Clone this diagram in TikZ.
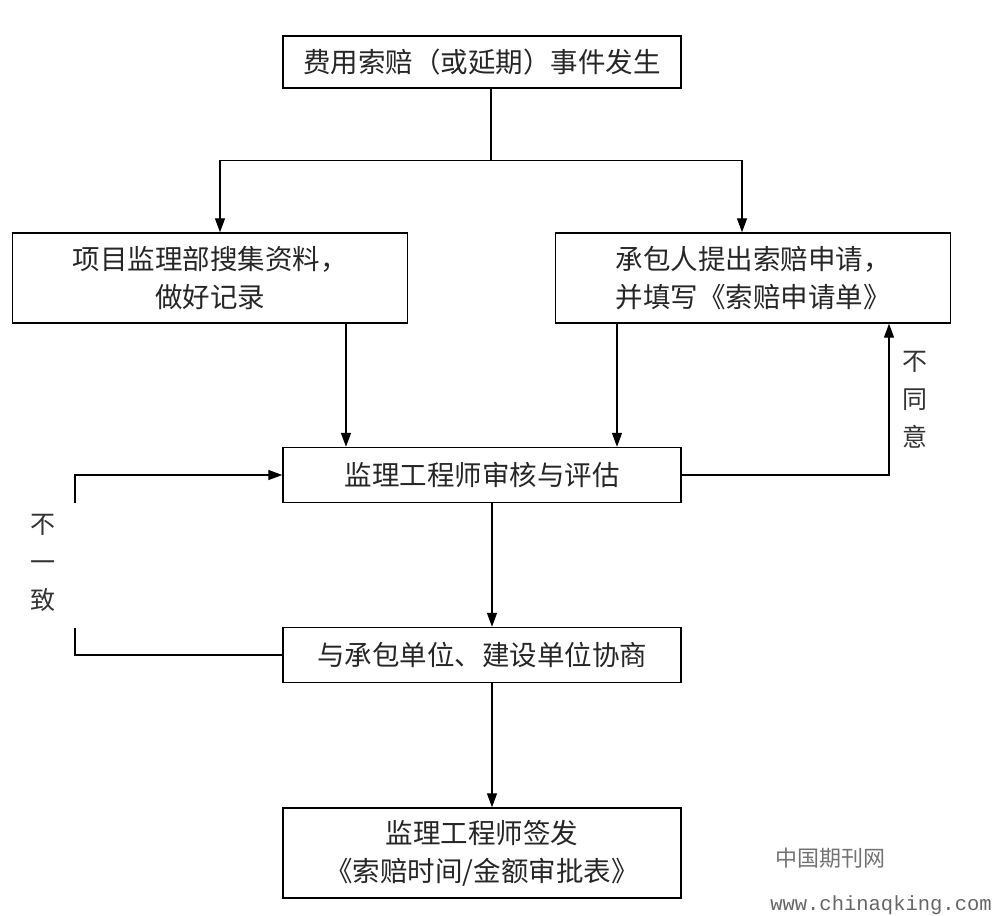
\documentclass[tikz,border=0pt]{standalone}
\usepackage{fontspec}
\setmainfont{Noto Sans CJK SC}
\newfontfamily\wmfont{Liberation Mono}
\usetikzlibrary{positioning,calc,arrows.meta}

\tikzset{
  box/.style={draw, line width=1.4pt, minimum width=398pt, inner sep=0pt, align=center,
    font=\fontsize{27.5}{38}\selectfont, text=black!85},
  arr/.style={-{Triangle[length=14pt,width=10pt]}, line width=1.3pt},
  lbl/.style={align=center, font=\fontsize{25}{38}\selectfont, text=black!80},
}

\begin{document}
\begin{tikzpicture}[x=1pt,y=-1pt]
    \useasboundingbox (0,0) rectangle (994,916);

    % Boxes
    \node[box, minimum height=52pt] (evt) at (482,62) {费用索赔（或延期）事件发生};
    \node[box, minimum width=395pt, minimum height=90pt] (collect) at (210,278) {项目监理部搜集资料，\\做好记录};
    \node[box, minimum width=395pt, minimum height=90pt] (apply) at (753,278) {承包人提出索赔申请，\\并填写《索赔申请单》};
    \node[box, minimum height=55pt] (review) at (482,475) {监理工程师审核与评估};
    \node[box, minimum height=55pt] (negotiate) at (482,655) {与承包单位、建设单位协商};
    \node[box, minimum height=90pt] (issue) at (482,853) {监理工程师签发\\《索赔时间/金额审批表》};

    % Split below the first box
    \coordinate (split) at ($(evt.south)+(9,72)$);
    \draw[line width=1.3pt] ($(evt.south)+(9,0)$) -- (split);
    \draw[arr] (split) -| ($(collect.north)+(10,0)$);
    \draw[arr] (split) -| ($(apply.north)+(-11,0)$);

    % Into the review box
    \draw[arr] ($(collect.south)+(136,0)$) -- ($(review.north -| collect.south)+(136,0)$);
    \draw[arr] ($(apply.south)+(-136,0)$) -- ($(review.north -| apply.south)+(-136,0)$);

    % Not agreed
    \draw[arr] (review.east) -| ($(apply.south)+(136,0)$);
    \node[lbl] (noagree) at (915,400) {不\\同\\意};

    % Down the middle
    \draw[arr] ($(review.south)+(10,0)$) -- ($(negotiate.north)+(10,0)$);
    \draw[arr] ($(negotiate.south)+(10,0)$) -- ($(issue.north)+(10,0)$);

    % Not consistent
    \coordinate (lowend) at (75,628);
    \coordinate (upend) at (75,503);
    \draw[line width=1.3pt] (negotiate.west) -| (lowend);
    \draw[arr] (upend) |- (review.west);
    \node[lbl] (nomatch) at (43,563) {不\\一\\致};

    % Watermark
    \node[font=\fontsize{22}{26}\selectfont, text=black!55] (wmcn) at (830,858) {中国期刊网};
    \node[font=\wmfont\fontsize{20.5}{24}\selectfont, text=black!60] (wmurl) at (881,905) {www.chinaqking.com};
\end{tikzpicture}
\end{document}
